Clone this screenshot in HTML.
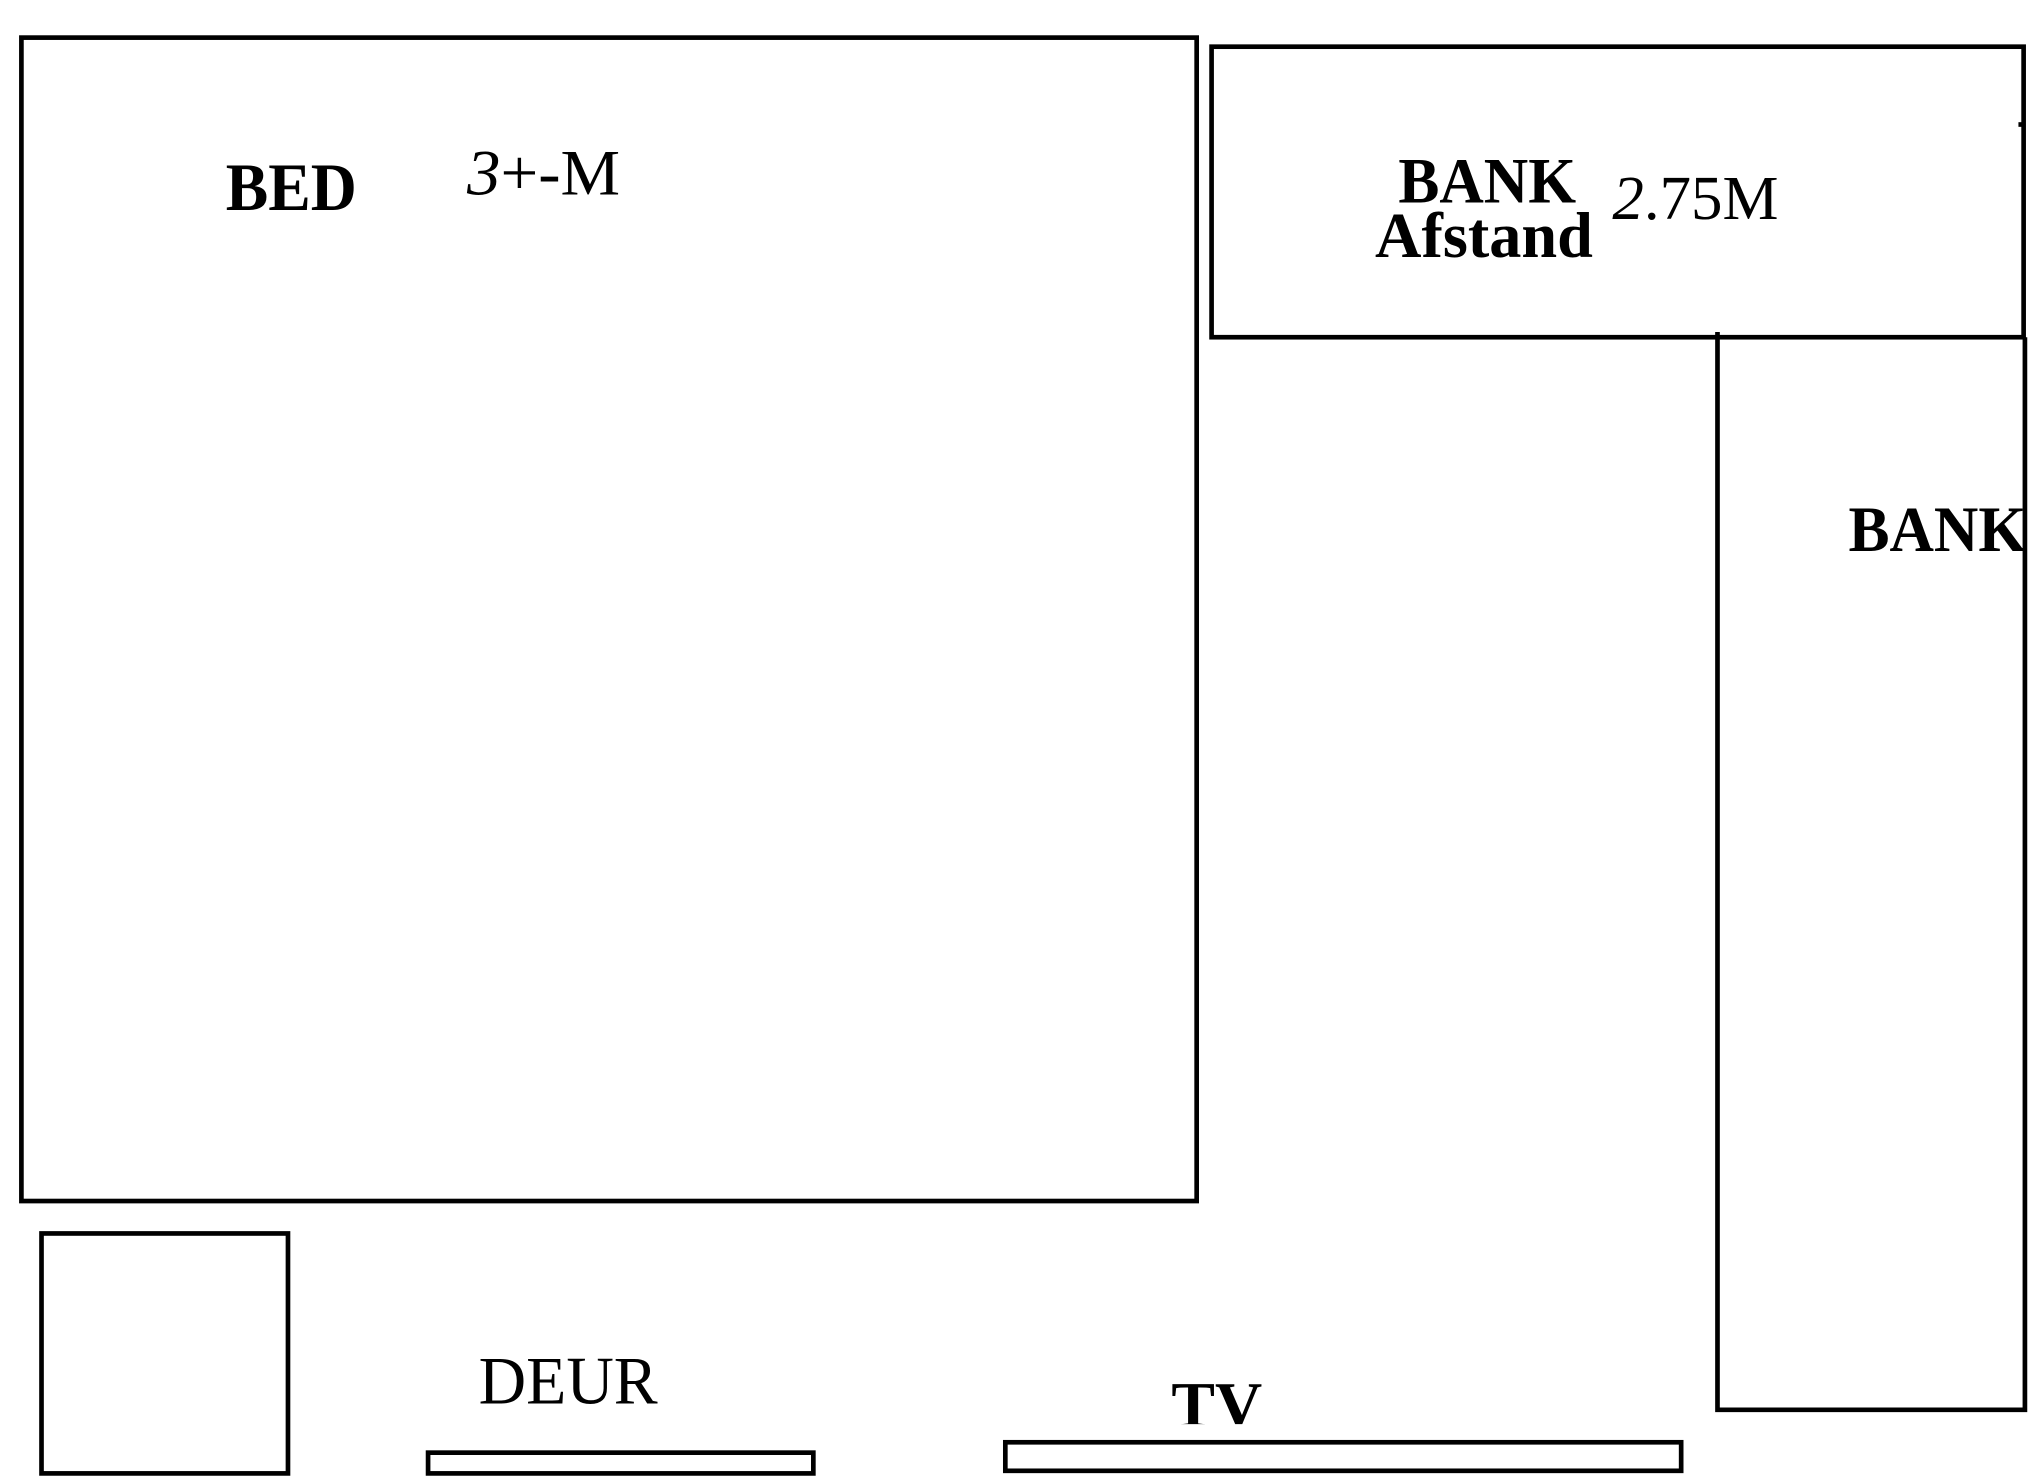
<!DOCTYPE html>
<html><head><meta charset="utf-8"><style>
html,body{margin:0;padding:0;background:#fff;}
svg{display:block;}
text{font-family:"Liberation Serif",serif;fill:#000;}
</style></head><body>
<svg width="2034" height="1476" viewBox="0 0 1568 1138" preserveAspectRatio="none" xmlns="http://www.w3.org/2000/svg">
<defs><clipPath id="c"><rect x="0" y="0" width="1561" height="1138"/></clipPath><clipPath id="tv"><rect x="0" y="0" width="1568" height="1098"/></clipPath></defs>
<rect width="1568" height="1138" fill="#fff"/>
<g fill="none" stroke="#000" stroke-width="3.6">
<rect x="16.5" y="29" width="906" height="897"/>
<rect x="32" y="951" width="190" height="185"/>
<rect x="330" y="1120" width="297" height="16"/>
<rect x="775" y="1112" width="521" height="22"/>
<rect x="934" y="36" width="626" height="224"/>
<polyline points="1324,256 1324,1087 1561,1087 1561,260"/>
<line x1="1556" y1="96" x2="1561" y2="96"/>
</g>
<text x="174" y="162" font-size="52" font-weight="bold" textLength="101" lengthAdjust="spacingAndGlyphs">BED</text>
<text x="360" y="150" font-size="50" textLength="118" lengthAdjust="spacingAndGlyphs"><tspan font-style="italic">3</tspan>+-M</text>
<text x="1078" y="156" font-size="50" font-weight="bold" textLength="137" lengthAdjust="spacingAndGlyphs">BANK</text>
<text x="1060" y="198" font-size="50" font-weight="bold" textLength="168" lengthAdjust="spacingAndGlyphs">Afstand</text>
<text x="1243" y="169" font-size="48" textLength="128" lengthAdjust="spacingAndGlyphs"><tspan font-style="italic">2</tspan>.75M</text>
<g clip-path="url(#c)"><text x="1425" y="425" font-size="50" font-weight="bold" textLength="137" lengthAdjust="spacingAndGlyphs">BANK</text></g>
<text x="369" y="1082" font-size="52" textLength="138" lengthAdjust="spacingAndGlyphs">DEUR</text>
<g clip-path="url(#tv)"><text x="903" y="1100" font-size="50" font-weight="bold" textLength="70" lengthAdjust="spacingAndGlyphs">TV</text></g>
</svg>
</body></html>
